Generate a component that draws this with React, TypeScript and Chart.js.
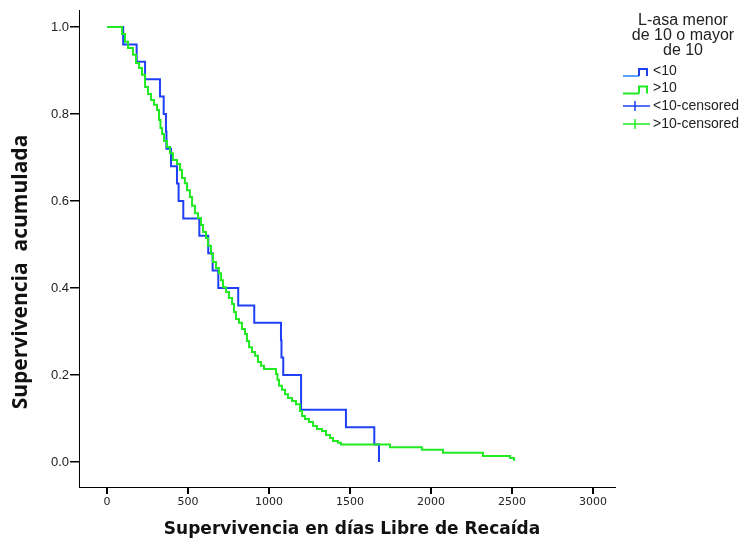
import React, { useEffect, useRef } from "react";
import { Chart, registerables } from "chart.js";

Chart.register(...registerables);

// Kaplan-Meier: days and cumulative survival after each event
const blueDays = [0, 100, 183, 235, 327, 350, 364, 367, 395, 432, 442, 471, 570, 625, 652, 687, 810, 909, 1074, 1077, 1088, 1198, 1475, 1650, 1679];
const blueSurvival = [1, 0.96, 0.92, 0.88, 0.84, 0.8, 0.76, 0.72, 0.68, 0.64, 0.6, 0.56, 0.52, 0.48, 0.44, 0.4, 0.36, 0.32, 0.28, 0.24, 0.2, 0.12, 0.08, 0.04, 0.0];

const greenDays = [0, 93, 111, 130, 160, 179, 198, 216, 235, 253, 272, 290, 309, 321, 330, 340, 352, 370, 389, 407, 432, 451, 463, 481, 494, 512, 525, 543, 562, 580, 593, 611, 623, 642, 654, 673, 691, 704, 716, 735, 753, 772, 784, 796, 815, 833, 852, 864, 877, 895, 914, 932, 951, 969, 1043, 1052, 1062, 1080, 1099, 1117, 1142, 1167, 1191, 1204, 1222, 1247, 1272, 1296, 1327, 1352, 1377, 1395, 1426, 1444, 1747, 1944, 2074, 2321, 2488, 2512, 2520];
const greenSurvival = [1, 0.984, 0.966, 0.952, 0.936, 0.917, 0.906, 0.89, 0.862, 0.846, 0.832, 0.821, 0.809, 0.786, 0.768, 0.754, 0.738, 0.724, 0.71, 0.694, 0.685, 0.671, 0.653, 0.641, 0.625, 0.609, 0.589, 0.572, 0.561, 0.545, 0.529, 0.515, 0.497, 0.478, 0.46, 0.446, 0.434, 0.418, 0.402, 0.391, 0.377, 0.363, 0.345, 0.329, 0.32, 0.306, 0.294, 0.278, 0.264, 0.253, 0.244, 0.23, 0.221, 0.214, 0.202, 0.189, 0.175, 0.166, 0.156, 0.147, 0.14, 0.133, 0.117, 0.106, 0.099, 0.092, 0.083, 0.076, 0.071, 0.062, 0.055, 0.048, 0.044, 0.04, 0.034, 0.028, 0.021, 0.014, 0.009, 0.005, 0.005];

const xTicks = [0, 500, 1000, 1500, 2000, 2500, 3000];
const yTicks = [0, 0.2, 0.4, 0.6, 0.8, 1.0];

const legendTitle = ["L-asa menor", "de 10 o mayor", "de 10"];
const legendLabels = ["<10", ">10", "<10-censored", ">10-censored"];
const xTitle = "Supervivencia en días Libre de Recaída";
const yTitle = "Supervivencia  acumulada";

const BLUE = "#1f40f5";
const LIGHT_BLUE = "#5aa2ff";
const GREEN = "#22ea22";

const overlay = {
  id: "overlay",
  afterDraw(chart: any) {
    const ctx = chart.ctx;
    ctx.save();
    // axis titles
    ctx.fillStyle = "#111";
    ctx.textAlign = "center";
    ctx.textBaseline = "middle";
    ctx.font = 'bold 17px "DejaVu Sans"';
    ctx.fillText(xTitle, 352, 530);
    ctx.save();
    ctx.translate(21, 272);
    ctx.rotate(-Math.PI / 2);
    ctx.font = 'bold 21px "Open Sans"';
    ctx.fillText(yTitle, 0, 0);
    ctx.restore();

    // legend title
    ctx.fillStyle = "#222";
    ctx.font = '16px "Liberation Sans"';
    const ty = [21, 36, 51];
    legendTitle.forEach((t, i) => ctx.fillText(t, 683, ty[i]));

    // legend items
    ctx.textAlign = "left";
    ctx.font = '14px "Liberation Sans"';
    const ry = [71, 88.5, 106, 124];
    legendLabels.forEach((t, i) => ctx.fillText(t, 653, ry[i]));

    ctx.lineWidth = 2;
    const stepIcon = (y: number, c1: string, c2: string) => {
      ctx.strokeStyle = c1;
      ctx.beginPath();
      ctx.moveTo(623, y + 5);
      ctx.lineTo(639, y + 5);
      ctx.stroke();
      ctx.strokeStyle = c2;
      ctx.beginPath();
      ctx.moveTo(639, y + 5);
      ctx.lineTo(639, y - 2);
      ctx.lineTo(647, y - 2);
      ctx.lineTo(647, y + 5);
      ctx.stroke();
    };
    stepIcon(ry[0], LIGHT_BLUE, BLUE);
    stepIcon(ry[1], GREEN, GREEN);
    const censIcon = (y: number, c: string) => {
      ctx.strokeStyle = c;
      ctx.lineWidth = 1.5;
      ctx.beginPath();
      ctx.moveTo(623, y);
      ctx.lineTo(650, y);
      ctx.moveTo(635, y - 5);
      ctx.lineTo(635, y + 5);
      ctx.stroke();
    };
    censIcon(ry[2], BLUE);
    censIcon(ry[3], GREEN);
    ctx.restore();
  },
};

export default function App() {
  const ref = useRef<HTMLCanvasElement | null>(null);
  useEffect(() => {
    if (!ref.current) return;
    const chart = new Chart(ref.current, {
      type: "line",
      data: {
        datasets: [
          {
            label: ">10",
            data: greenDays.map((d, i) => ({ x: d, y: greenSurvival[i] })),
            borderColor: GREEN,
            borderWidth: 2,
            pointRadius: 0,
            stepped: true,
            fill: false,
          },
          {
            label: "<10",
            data: blueDays.map((d, i) => ({ x: d, y: blueSurvival[i] })),
            borderColor: BLUE,
            borderWidth: 2,
            pointRadius: 0,
            stepped: true,
            fill: false,
          },
        ],
      },
      options: {
        animation: false,
        responsive: false,
        devicePixelRatio: 1,
        layout: { padding: { left: 0, right: 128, top: 10, bottom: 0 } },
        plugins: { legend: { display: false }, tooltip: { enabled: false } },
        scales: {
          x: {
            type: "linear",
            min: -172.8,
            max: 3135.8,
            afterFit: (s: any) => {
              s.height = 55;
            },
            afterBuildTicks: (s: any) => {
              s.ticks = xTicks.map((v) => ({ value: v }));
            },
            grid: {
              display: true,
              drawOnChartArea: false,
              drawTicks: true,
              tickLength: 7,
              lineWidth: 2,
              color: "#000",
            },
            border: { display: true, color: "#000", width: 1 },
            ticks: {
              color: "#222",
              padding: 2,
              maxRotation: 0,
              font: { family: '"DejaVu Sans"', size: 11 },
              callback: (v: any) => String(v),
            },
            title: { display: false },
          },
          y: {
            type: "linear",
            min: -0.0575,
            max: 1.0391,
            afterFit: (s: any) => {
              s.width = 79;
            },
            afterBuildTicks: (s: any) => {
              s.ticks = yTicks.map((v) => ({ value: v }));
            },
            grid: {
              display: true,
              drawOnChartArea: false,
              drawTicks: true,
              tickLength: 9,
              lineWidth: 1.5,
              color: "#000",
            },
            border: { display: true, color: "#000", width: 1 },
            ticks: {
              color: "#222",
              padding: 1,
              font: { family: '"Liberation Sans"', size: 13 },
              callback: (v: any) => Number(v).toFixed(1),
            },
            title: { display: false },
          },
        },
      },
      plugins: [overlay],
    });
    return () => chart.destroy();
  }, []);
  return (
    <div style={{ position: "fixed", left: 0, top: 0, width: 743, height: 542, background: "#fff" }}>
      <canvas ref={ref} width={743} height={542} />
    </div>
  );
}
